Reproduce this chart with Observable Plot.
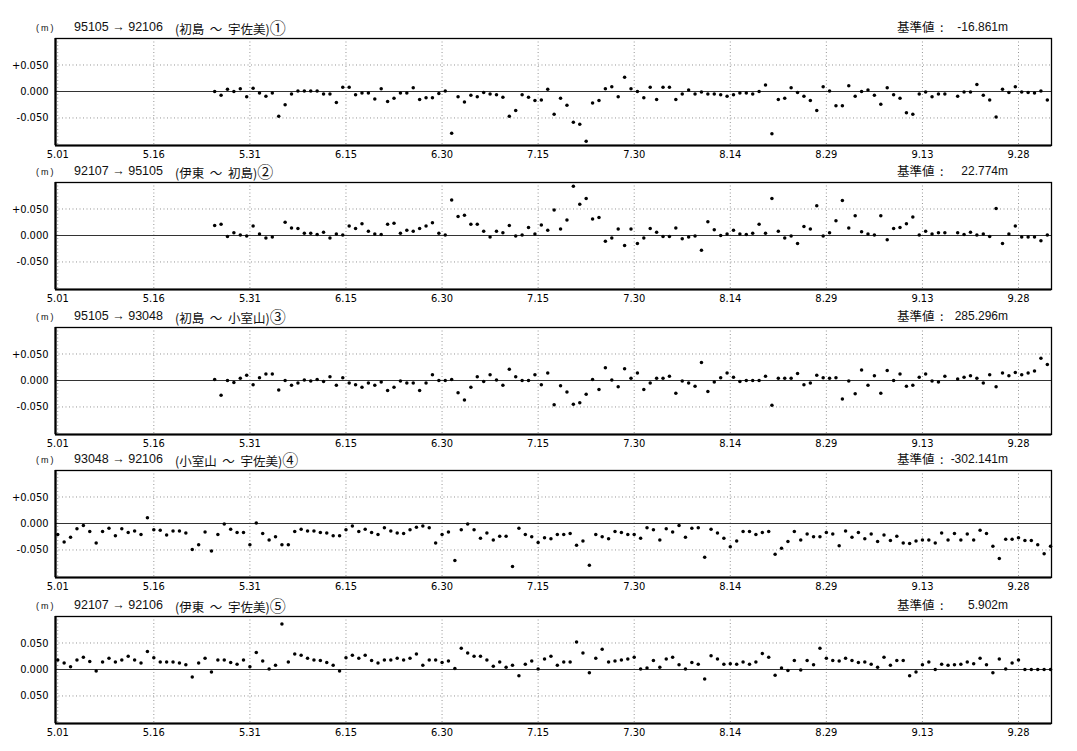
<!DOCTYPE html>
<html><head><meta charset="utf-8">
<script src="https://cdn.jsdelivr.net/npm/d3@7"></script>
<script src="https://cdn.jsdelivr.net/npm/@observablehq/plot@0.6"></script>
<style>
body{margin:0;background:#fff;}
#wrap{position:relative;width:1077px;height:751px;overflow:hidden;background:#fff;font-family:"Liberation Sans","Noto Sans CJK JP",sans-serif;color:#111;}
.h{position:absolute;height:16px;line-height:16px;font-size:12.5px;white-space:nowrap;}
.bv{font-size:12px;}
.unit{font-size:9px;letter-spacing:2px;}
.st{font-family:"Noto Sans CJK JP",sans-serif;font-size:12.5px;}
.circ{font-family:"Noto Sans CJK JP",sans-serif;font-size:16px;line-height:16px;}
.svgbox{position:absolute;left:0;}
</style></head>
<body><div id="wrap"></div>
<script>
// ---- data ----
const tickLabels = ["5.01","5.16","5.31","6.15","6.30","7.15","7.30","8.14","8.29","9.13","9.28"];
const codes = ["95105 → 92106","92107 → 95105","95105 → 93048","93048 → 92106","92107 → 92106"];
const stations = ["(初島 ～ 宇佐美)","(伊東 ～ 初島)","(初島 ～ 小室山)","(小室山 ～ 宇佐美)","(伊東 ～ 宇佐美)"];
const circled = ["①","②","③","④","⑤"];
const baseValues = ["-16.861m","22.774m","285.296m","-302.141m","5.902m"];
const yTickValues = [0.05, 0, -0.05];
const yTickLabelsStd = ["+0.050","0.000","-0.050"];
const yTickLabelsP5 = ["0.050","0.000","0.050"];
const startDates = ["5.25","5.25","5.25","5.01","5.01"];
const obsHour = [12,12,12,0,0];

const s1 = [0.000,-0.007,0.004,0.000,0.005,-0.010,0.006,-0.003,-0.009,-0.003,
-0.047,-0.025,-0.005,0.001,0.001,0.001,0.001,-0.005,-0.005,-0.021,
0.008,0.008,-0.006,-0.003,-0.003,-0.014,0.005,-0.019,-0.013,-0.003,
-0.003,0.007,-0.015,-0.012,-0.012,-0.004,0.001,-0.079,-0.010,-0.020,
-0.007,-0.010,-0.002,-0.005,-0.006,-0.011,-0.047,-0.036,-0.006,-0.011,
-0.017,-0.016,0.004,-0.043,-0.013,-0.026,-0.058,-0.062,-0.094,-0.022,
-0.017,0.005,0.009,-0.010,0.027,0.005,0.000,-0.012,0.008,-0.015,
0.008,0.008,-0.015,-0.005,0.003,-0.005,-0.001,-0.005,-0.005,-0.006,
-0.009,-0.006,-0.003,-0.003,-0.005,0.000,0.012,-0.080,-0.015,-0.013,
0.007,-0.002,-0.009,-0.017,-0.036,0.009,0.001,-0.027,-0.027,0.011,
-0.009,0.000,0.003,-0.007,-0.024,0.007,-0.006,-0.013,-0.040,-0.043,
-0.005,-0.001,-0.010,-0.005,-0.005,null,-0.009,-0.001,-0.001,0.013,
-0.007,-0.016,-0.048,0.004,-0.002,0.009,-0.001,-0.002,-0.003,0.001,-0.016];

const s2 = [0.019,0.021,-0.002,0.005,0.001,-0.001,0.018,0.003,-0.005,-0.003,
null,0.025,0.014,0.013,0.004,0.004,0.002,0.006,-0.005,0.003,
0.001,0.018,0.013,0.022,0.008,0.003,0.002,0.021,0.023,0.004,
0.010,0.008,0.013,0.018,0.024,0.004,0.001,0.067,0.036,0.038,
0.021,0.021,0.008,-0.003,0.008,0.005,0.019,-0.001,0.001,0.015,
0.003,0.020,0.010,0.048,0.012,0.029,0.093,0.059,0.070,0.031,
0.034,-0.011,-0.005,0.012,-0.019,0.012,-0.015,-0.005,0.013,0.006,
-0.002,-0.002,0.014,-0.006,-0.003,-0.001,-0.028,0.026,0.011,0.000,
0.003,0.010,0.003,0.002,0.004,0.021,0.004,0.070,0.008,-0.005,
-0.001,-0.015,0.017,0.012,0.056,-0.001,0.005,0.028,0.066,0.014,
0.037,0.007,0.003,0.001,0.037,-0.008,0.013,0.015,0.022,0.035,
0.001,0.008,0.003,0.005,0.005,null,0.005,0.002,0.006,0.001,
0.003,-0.002,0.051,-0.015,0.003,0.018,-0.003,-0.003,-0.003,-0.010,0.001];

const s3 = [0.002,-0.028,0.000,-0.004,0.004,0.010,-0.008,0.005,0.012,0.012,
-0.018,0.000,-0.009,-0.005,0.001,-0.001,0.002,-0.002,0.007,-0.009,
0.005,-0.005,-0.008,-0.013,-0.005,-0.009,-0.003,-0.019,-0.013,-0.001,
-0.005,-0.005,-0.019,-0.005,0.011,0.000,0.000,0.002,-0.023,-0.037,
-0.013,0.007,-0.002,0.011,0.001,-0.009,0.021,0.007,0.000,0.000,
0.011,-0.008,0.014,-0.046,-0.010,-0.022,-0.045,-0.042,-0.026,0.002,
-0.017,0.024,0.001,-0.012,0.022,0.004,0.014,-0.017,-0.005,0.004,
0.004,0.008,-0.024,-0.001,-0.005,-0.011,0.034,-0.021,-0.003,0.005,
0.014,0.006,-0.002,0.000,0.000,0.000,0.008,-0.047,0.004,0.004,
0.004,0.013,-0.008,-0.005,0.010,0.005,0.004,0.005,-0.035,-0.001,
-0.025,0.020,-0.009,0.009,-0.024,0.019,0.000,0.012,-0.011,-0.009,
0.006,0.012,-0.001,-0.003,0.008,null,0.003,0.006,0.009,0.004,
-0.005,0.011,-0.012,0.014,0.009,0.015,0.011,0.014,0.018,0.042,0.030];

const s4 = [-0.021,-0.035,-0.026,-0.010,-0.004,-0.015,-0.037,-0.015,-0.009,-0.023,
-0.010,-0.017,-0.014,-0.021,0.011,-0.012,-0.013,-0.022,-0.014,-0.014,
-0.018,-0.049,-0.040,-0.016,-0.052,-0.021,-0.001,-0.011,-0.017,-0.017,
-0.040,0.001,-0.019,-0.031,-0.025,-0.040,-0.040,-0.015,-0.011,-0.014,
-0.014,-0.017,-0.018,-0.023,-0.023,-0.012,-0.005,-0.015,-0.011,-0.017,
-0.021,-0.008,-0.014,-0.018,-0.019,-0.012,-0.007,-0.005,-0.008,-0.037,
-0.021,-0.016,-0.070,-0.012,-0.001,-0.012,-0.028,-0.018,-0.031,-0.024,
-0.024,-0.081,-0.009,-0.021,-0.025,-0.036,
-0.027,-0.029,-0.021,-0.021,-0.019,-0.041,-0.033,-0.079,-0.021,-0.025,
-0.029,-0.015,-0.017,-0.021,-0.021,-0.028,-0.008,-0.012,-0.031,-0.010,
-0.016,-0.004,-0.026,-0.009,-0.008,-0.064,-0.011,-0.018,-0.028,-0.044,
-0.033,-0.015,-0.015,-0.021,-0.017,-0.015,-0.058,-0.047,-0.034,-0.015,
-0.031,-0.020,-0.025,-0.025,-0.017,-0.020,-0.042,-0.014,-0.026,-0.017,
-0.029,-0.020,-0.034,-0.022,-0.032,-0.024,-0.037,-0.038,-0.033,-0.031,
-0.031,-0.037,-0.018,-0.031,-0.019,-0.031,-0.020,-0.031,-0.013,-0.019,
-0.043,-0.066,-0.030,-0.030,-0.027,-0.032,-0.032,-0.040,-0.057,-0.043];

const s5 = [0.018,0.012,0.005,0.018,0.023,0.015,-0.003,0.014,0.021,0.014,
0.018,0.025,0.018,0.012,0.034,0.022,0.014,0.014,0.014,0.012,
0.009,-0.014,0.012,0.021,-0.005,0.018,0.018,0.013,0.010,0.018,
0.005,0.032,0.016,0.001,0.008,0.086,0.014,0.029,0.027,0.021,
0.018,0.017,0.013,0.008,-0.003,0.022,0.027,0.021,0.027,0.017,
0.012,0.018,0.018,0.021,0.018,0.021,0.029,0.008,0.018,0.018,
0.013,0.016,0.002,0.040,0.031,0.025,0.025,0.018,0.006,0.014,
0.004,0.008,-0.012,0.010,0.016,0.001,
0.020,0.025,0.008,0.014,0.014,0.052,0.031,-0.006,0.021,0.038,
0.014,0.016,0.018,0.020,0.023,0.001,0.003,0.017,0.004,0.020,
0.023,0.009,0.001,0.013,0.010,-0.018,0.026,0.020,0.010,0.011,
0.010,0.014,0.010,0.014,0.030,0.023,-0.011,0.003,-0.002,0.017,
-0.001,0.017,0.009,0.040,0.021,0.017,0.016,0.021,0.017,0.013,
0.014,0.010,0.004,0.023,0.008,0.017,0.017,-0.012,-0.005,0.009,
0.014,0.000,0.010,0.008,0.009,0.010,0.014,0.011,0.021,0.009,
-0.006,0.020,0.001,0.012,0.018,0.000,0.000,0.000,0.000,0.000];

const series = [s1, s2, s3, s4, s5];

// ---- helpers ----
const monthOffset = {5: 0, 6: 31, 7: 61, 8: 92, 9: 123, 10: 153};
function dayIndex(md) { const [m, d] = md.split(".").map(Number); return monthOffset[m] + d - 1; }
const tickDays = tickLabels.map(dayIndex);
const tickMap = new Map(tickDays.map((d, i) => [d, tickLabels[i]]));

// ---- layout ----
const frameTops = [38, 181.5, 327, 470, 616];
const frameH = 107, mTop = 2, mBottom = 22;
const xDomain = [-0.35, 155.15], yDomain = [-0.102, 0.1];
const FONT = '"Liberation Sans Narrow","DejaVu Sans Condensed","Liberation Sans",sans-serif';

const wrap = document.getElementById("wrap");

series.forEach((vals, p) => {
  const d0 = dayIndex(startDates[p]);
  const data = vals.map((v, i) => ({day: d0 + i + obsHour[p] / 24, v})).filter(d => d.v != null);
  const yLab = p === 4 ? yTickLabelsP5 : yTickLabelsStd;
  const yMap = new Map(yTickValues.map((v, i) => [v, yLab[i]]));

  const chart = Plot.plot({
    width: 1077, height: mTop + frameH + mBottom,
    marginLeft: 55, marginRight: 26, marginTop: mTop, marginBottom: mBottom,
    style: {fontFamily: FONT, fontSize: "11px", color: "#000", background: "transparent", overflow: "visible"},
    x: {domain: xDomain, ticks: tickDays, tickFormat: d => tickMap.get(d), tickSize: 0, tickPadding: 5, label: null},
    y: {domain: yDomain, ticks: yTickValues, tickFormat: d => yMap.get(d), tickSize: 0, tickPadding: 7, label: null},
    marks: [
      Plot.ruleX(tickDays, {stroke: "#8a8a8a", strokeDasharray: "1,2.5", strokeWidth: 0.9}),
      Plot.ruleY([0.05, -0.05], {stroke: "#8a8a8a", strokeDasharray: "1,2.5", strokeWidth: 0.9}),
      Plot.ruleY([0], {stroke: "#333", strokeWidth: 1.1}),
      Plot.dot(data, {x: "day", y: "v", r: 1.75, fill: "#000", stroke: null}),
      Plot.frame({stroke: "#000", strokeWidth: 1.3}),
      Plot.ruleX([xDomain[0]], {stroke: "#000", strokeWidth: 2.2}),
      Plot.ruleY([yDomain[0]], {stroke: "#000", strokeWidth: 2.2})
    ]
  });
  const box = document.createElement("div");
  box.className = "svgbox";
  box.style.top = (frameTops[p] - mTop) + "px";
  box.appendChild(chart);
  wrap.appendChild(box);

  const hy = frameTops[p] - 19;
  const add = (html, style) => {
    const el = document.createElement("div");
    el.className = "h";
    el.innerHTML = html;
    Object.assign(el.style, style, {top: hy + "px"});
    wrap.appendChild(el);
  };
  add('<span class="unit">(m)</span>', {left: "36px"});
  add(codes[p], {left: "74px"});
  add('<span class="st">' + stations[p].replace(/ /g, "&nbsp;&nbsp;") + '</span><span class="circ">' + circled[p] + '</span>', {left: "175px"});
  add('<span class="st">基準値&nbsp;&nbsp;:</span>', {left: "897px"});
  add('<span class="bv">' + baseValues[p] + '</span>', {right: "69px", textAlign: "right"});
});
</script>
</body></html>
